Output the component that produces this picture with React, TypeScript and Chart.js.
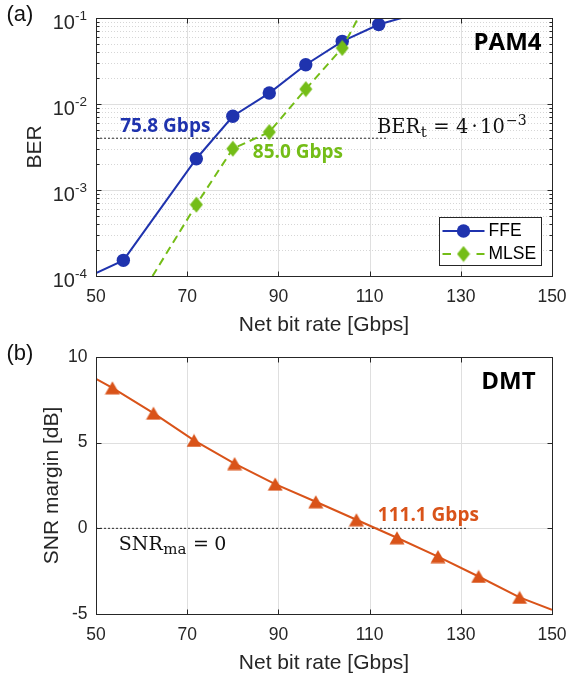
import React, { useEffect, useRef } from "react";
import { Chart, registerables } from "chart.js";
Chart.register(...registerables);

// ---------------- data ----------------
const xTicks = [50, 70, 90, 110, 130, 150];
const berTickValues = [1e-4, 1e-3, 1e-2, 1e-1];
const berTickExponents = ["-4", "-3", "-2", "-1"];
const snrTicks = [-5, 0, 5, 10];
const snrTickLabels = ["-5", "0", "5", "10"];

// PAM4 - FFE
const ffeRate = [56, 72, 80, 88, 96, 104, 112];
const ffeBer = [1.52e-4, 2.31e-3, 7.2e-3, 1.34e-2, 2.86e-2, 5.35e-2, 8.4e-2];
const ffeLineRate = [50, 56, 72, 80, 88, 96, 104, 112, 117];
const ffeLineBer = [1.08e-4, 1.52e-4, 2.31e-3, 7.2e-3, 1.34e-2, 2.86e-2, 5.35e-2, 8.4e-2, 1e-1];

// PAM4 - MLSE
const mlseRate = [72, 80, 88, 96, 104];
const mlseBer = [6.75e-4, 3.02e-3, 4.72e-3, 1.49e-2, 4.48e-2];
const mlseLineRate = [62.4, 72, 80, 88, 96, 104, 107.5];
const mlseLineBer = [1e-4, 6.75e-4, 3.02e-3, 4.72e-3, 1.49e-2, 4.48e-2, 1e-1];

// BER threshold
const berTarget = 4e-3;
const berTargetRate = [50, 114];

// DMT
const dmtRate = [53.6, 62.6, 71.5, 80.4, 89.3, 98.2, 107.1, 116.0, 125.0, 133.9, 142.9];
const dmtMargin = [8.2, 6.72, 5.13, 3.78, 2.58, 1.55, 0.5, -0.55, -1.65, -2.81, -4.03];
const dmtLineRate = [50, 53.6, 62.6, 71.5, 80.4, 89.3, 98.2, 107.1, 116.0, 125.0, 133.9, 142.9, 150];
const dmtLineMargin = [8.72, 8.2, 6.72, 5.13, 3.78, 2.58, 1.55, 0.5, -0.55, -1.65, -2.81, -4.03, -4.75];

// SNR threshold
const snrTarget = 0;
const snrTargetRate = [50, 131.6];

// annotation texts and anchors (data coordinates)
const ffeRateText = "75.8 Gbps";
const ffeRateAnchor = [55.3, 5.5e-3];
const mlseRateText = "85.0 Gbps";
const mlseRateAnchor = [84.4, 2.7e-3];
const pamText = "PAM4";
const pamAnchor = [147.7, 5.1e-2];
const berTargetAnchor = [111.6, 4.6e-3];
const dmtRateText = "111.1 Gbps";
const dmtRateAnchor = [111.8, 0.72];
const snrTargetAnchor = [55.0, -1.26];
const dmtText = "DMT";
const dmtAnchor = [146.4, 8.52];

// ---------------- styles ----------------
const BLUE = "#1f33ae";
const GREEN = "#74bd17";
const ORANGE = "#d95319";
const AX = "#262626";
const GRID = "#dfdfdf";
const MINOR = "#d6d6d6";
const SANS = "'Liberation Sans', Arial, sans-serif";
const BOLD = "'Open Sans', 'Noto Sans', sans-serif";
const SERIF = "'DejaVu Serif', serif";

const pts = (xs: number[], ys: number[]) => xs.map((x, i) => ({ x, y: ys[i] }));
const px = (v: number) => Math.round(v) + 0.5;

function makeDiamond(color: string) {
  const c = document.createElement("canvas");
  c.width = 14;
  c.height = 17;
  const g = c.getContext("2d")!;
  g.fillStyle = color;
  g.beginPath();
  g.moveTo(7, 0.5);
  g.lineTo(13.5, 8.5);
  g.lineTo(7, 16.5);
  g.lineTo(0.5, 8.5);
  g.closePath();
  g.fill();
  return c;
}

function makeTriangle(color: string) {
  const c = document.createElement("canvas");
  c.width = 16;
  c.height = 14;
  const g = c.getContext("2d")!;
  g.fillStyle = color;
  g.beginPath();
  g.moveTo(8, 0.5);
  g.lineTo(15.5, 13.5);
  g.lineTo(0.5, 13.5);
  g.closePath();
  g.fill();
  return c;
}

function mathText(
  ctx: CanvasRenderingContext2D,
  x: number,
  yb: number,
  segs: { t: string; size: number; dy?: number; gap?: number }[]
) {
  let cx = x;
  ctx.textAlign = "left";
  ctx.textBaseline = "alphabetic";
  for (const s of segs) {
    cx += s.gap || 0;
    ctx.font = `${s.size}px ${SERIF}`;
    ctx.fillText(s.t, cx, yb + (s.dy || 0));
    cx += ctx.measureText(s.t).width;
  }
}

function drawFrame(
  ctx: CanvasRenderingContext2D,
  a: any,
  xPix: number[],
  yMajor: number[],
  yMinor: number[]
) {
  ctx.save();
  ctx.strokeStyle = AX;
  ctx.lineWidth = 1;
  ctx.setLineDash([]);
  const l = px(a.left), r = px(a.right), t = px(a.top), b = px(a.bottom);
  ctx.strokeRect(l, t, r - l, b - t);
  ctx.beginPath();
  for (const x0 of xPix) {
    const x = px(x0);
    ctx.moveTo(x, b);
    ctx.lineTo(x, b - 5);
    ctx.moveTo(x, t);
    ctx.lineTo(x, t + 5);
  }
  for (const y0 of yMajor) {
    const y = px(y0);
    ctx.moveTo(l, y);
    ctx.lineTo(l + 5, y);
    ctx.moveTo(r, y);
    ctx.lineTo(r - 5, y);
  }
  for (const y0 of yMinor) {
    const y = px(y0);
    ctx.moveTo(l, y);
    ctx.lineTo(l + 3, y);
    ctx.moveTo(r, y);
    ctx.lineTo(r - 3, y);
  }
  ctx.stroke();
  ctx.restore();
}

function drawXAxisText(ctx: CanvasRenderingContext2D, chart: any) {
  const a = chart.chartArea;
  const xs = chart.scales.x;
  ctx.fillStyle = AX;
  ctx.font = `17.5px ${SANS}`;
  ctx.textAlign = "center";
  ctx.textBaseline = "middle";
  for (const t of xTicks) ctx.fillText(String(t), xs.getPixelForValue(t), a.bottom + 21.5);
  ctx.font = `21px ${SANS}`;
  ctx.fillText("Net bit rate [Gbps]", (a.left + a.right) / 2, a.bottom + 49);
}

function drawYTitle(ctx: CanvasRenderingContext2D, text: string, x: number, y: number) {
  ctx.save();
  ctx.translate(x, y);
  ctx.rotate(-Math.PI / 2);
  ctx.fillStyle = AX;
  ctx.font = `21px ${SANS}`;
  ctx.textAlign = "center";
  ctx.textBaseline = "middle";
  ctx.fillText(text, 0, 0);
  ctx.restore();
}

function minorBerValues() {
  const out: number[] = [];
  for (let i = 0; i < berTickValues.length - 1; i++)
    for (let k = 2; k <= 9; k++) out.push(k * berTickValues[i]);
  return out;
}

export default function App() {
  const refA = useRef<HTMLCanvasElement>(null);
  const refB = useRef<HTMLCanvasElement>(null);

  useEffect(() => {
    const diamond = makeDiamond(GREEN);
    const triangle = makeTriangle(ORANGE);

    const panelA = {
      id: "panelA",
      beforeDatasetsDraw(chart: any) {
        const ctx = chart.ctx as CanvasRenderingContext2D;
        const a = chart.chartArea;
        const xs = chart.scales.x, ys = chart.scales.y;
        ctx.save();
        ctx.lineWidth = 1;
        ctx.strokeStyle = MINOR;
        ctx.setLineDash([1, 2]);
        ctx.beginPath();
        for (const v of minorBerValues()) {
          const y = px(ys.getPixelForValue(v));
          ctx.moveTo(a.left, y);
          ctx.lineTo(a.right, y);
        }
        ctx.stroke();
        ctx.setLineDash([]);
        ctx.strokeStyle = GRID;
        ctx.beginPath();
        for (const v of berTickValues) {
          const y = px(ys.getPixelForValue(v));
          ctx.moveTo(a.left, y);
          ctx.lineTo(a.right, y);
        }
        for (const t of xTicks) {
          const x = px(xs.getPixelForValue(t));
          ctx.moveTo(x, a.top);
          ctx.lineTo(x, a.bottom);
        }
        ctx.stroke();
        ctx.restore();
      },
      afterDatasetsDraw(chart: any) {
        const ctx = chart.ctx as CanvasRenderingContext2D;
        const a = chart.chartArea;
        const xs = chart.scales.x, ys = chart.scales.y;
        drawFrame(
          ctx,
          a,
          xTicks.map((t) => xs.getPixelForValue(t)),
          berTickValues.map((v) => ys.getPixelForValue(v)),
          minorBerValues().map((v) => ys.getPixelForValue(v))
        );
        ctx.save();
        // y tick labels 10^n
        berTickValues.forEach((v, i) => {
          const y = ys.getPixelForValue(v);
          ctx.fillStyle = AX;
          ctx.textAlign = "right";
          ctx.textBaseline = "middle";
          ctx.font = `13.5px ${SANS}`;
          const supW = ctx.measureText(berTickExponents[i]).width;
          ctx.fillText(berTickExponents[i], a.left - 9, y - 1.5);
          ctx.font = `20px ${SANS}`;
          ctx.fillText("10", a.left - 9 - supW, y + 5.5);
        });
        drawXAxisText(ctx, chart);
        drawYTitle(ctx, "BER", 35, (a.top + a.bottom) / 2);
        // panel letter
        ctx.fillStyle = "#111";
        ctx.font = `22px ${SANS}`;
        ctx.textAlign = "left";
        ctx.textBaseline = "middle";
        ctx.fillText("(a)", 6.5, 15);
        // annotations
        ctx.font = `bold 19px ${BOLD}`;
        ctx.fillStyle = BLUE;
        ctx.fillText(ffeRateText, xs.getPixelForValue(ffeRateAnchor[0]), ys.getPixelForValue(ffeRateAnchor[1]));
        ctx.fillStyle = GREEN;
        ctx.fillText(mlseRateText, xs.getPixelForValue(mlseRateAnchor[0]), ys.getPixelForValue(mlseRateAnchor[1]));
        ctx.fillStyle = "#000";
        ctx.font = `bold 24px ${BOLD}`;
        ctx.textAlign = "right";
        ctx.fillText(pamText, xs.getPixelForValue(pamAnchor[0]), ys.getPixelForValue(pamAnchor[1]));
        ctx.fillStyle = "#111";
        mathText(ctx, xs.getPixelForValue(berTargetAnchor[0]), ys.getPixelForValue(berTargetAnchor[1]), [
          { t: "BER", size: 19.5 },
          { t: "t", size: 15, dy: 3.5, gap: 0.5 },
          { t: "=", size: 19.5, gap: 6.5 },
          { t: "4", size: 19.5, gap: 6.5 },
          { t: "·", size: 19.5, gap: 3 },
          { t: "10", size: 19.5, gap: 2.5 },
          { t: "−3", size: 14, dy: -8.5, gap: 1 },
        ]);
        // legend (south-east)
        const lw = 102, lh = 48;
        const lx = a.right - 11.5 - lw, ly = a.bottom - 11.5 - lh;
        ctx.fillStyle = "#fff";
        ctx.fillRect(px(lx), px(ly), lw, lh);
        ctx.strokeStyle = AX;
        ctx.lineWidth = 1;
        ctx.strokeRect(px(lx), px(ly), lw, lh);
        const r1 = ly + 14.5, r2 = ly + 37.5;
        ctx.strokeStyle = BLUE;
        ctx.lineWidth = 2;
        ctx.beginPath();
        ctx.moveTo(lx + 4, r1);
        ctx.lineTo(lx + 46, r1);
        ctx.stroke();
        ctx.fillStyle = BLUE;
        ctx.beginPath();
        ctx.arc(lx + 25, r1, 6.7, 0, Math.PI * 2);
        ctx.fill();
        ctx.strokeStyle = GREEN;
        ctx.beginPath();
        ctx.moveTo(lx + 4, r2);
        ctx.lineTo(lx + 12.5, r2);
        ctx.moveTo(lx + 38, r2);
        ctx.lineTo(lx + 46, r2);
        ctx.stroke();
        ctx.drawImage(diamond, lx + 25 - diamond.width / 2, r2 - diamond.height / 2);
        ctx.fillStyle = "#000";
        ctx.font = `17.5px ${SANS}`;
        ctx.textAlign = "left";
        ctx.textBaseline = "middle";
        ctx.fillText("FFE", lx + 50, r1);
        ctx.fillText("MLSE", lx + 50, r2);
        ctx.restore();
      },
    };

    const panelB = {
      id: "panelB",
      beforeDatasetsDraw(chart: any) {
        const ctx = chart.ctx as CanvasRenderingContext2D;
        const a = chart.chartArea;
        const xs = chart.scales.x, ys = chart.scales.y;
        ctx.save();
        ctx.lineWidth = 1;
        ctx.strokeStyle = GRID;
        ctx.beginPath();
        for (const v of snrTicks) {
          const y = px(ys.getPixelForValue(v));
          ctx.moveTo(a.left, y);
          ctx.lineTo(a.right, y);
        }
        for (const t of xTicks) {
          const x = px(xs.getPixelForValue(t));
          ctx.moveTo(x, a.top);
          ctx.lineTo(x, a.bottom);
        }
        ctx.stroke();
        ctx.restore();
      },
      afterDatasetsDraw(chart: any) {
        const ctx = chart.ctx as CanvasRenderingContext2D;
        const a = chart.chartArea;
        const xs = chart.scales.x, ys = chart.scales.y;
        drawFrame(
          ctx,
          a,
          xTicks.map((t) => xs.getPixelForValue(t)),
          snrTicks.map((v) => ys.getPixelForValue(v)),
          []
        );
        ctx.save();
        ctx.fillStyle = AX;
        ctx.font = `17.5px ${SANS}`;
        ctx.textAlign = "right";
        ctx.textBaseline = "middle";
        snrTicks.forEach((v, i) => ctx.fillText(snrTickLabels[i], a.left - 8.5, ys.getPixelForValue(v)));
        drawXAxisText(ctx, chart);
        drawYTitle(ctx, "SNR margin [dB]", 52, (a.top + a.bottom) / 2);
        ctx.fillStyle = "#111";
        ctx.font = `22px ${SANS}`;
        ctx.textAlign = "left";
        ctx.textBaseline = "middle";
        ctx.fillText("(b)", 6.5, 24);
        ctx.font = `bold 19px ${BOLD}`;
        ctx.fillStyle = ORANGE;
        ctx.fillText(dmtRateText, xs.getPixelForValue(dmtRateAnchor[0]), ys.getPixelForValue(dmtRateAnchor[1]));
        ctx.fillStyle = "#000";
        ctx.font = `bold 24px ${BOLD}`;
        ctx.textAlign = "right";
        ctx.fillText(dmtText, xs.getPixelForValue(dmtAnchor[0]), ys.getPixelForValue(dmtAnchor[1]));
        ctx.fillStyle = "#111";
        mathText(ctx, xs.getPixelForValue(snrTargetAnchor[0]), ys.getPixelForValue(snrTargetAnchor[1]), [
          { t: "SNR", size: 19 },
          { t: "ma", size: 15, dy: 4, gap: 0.5 },
          { t: "=", size: 19, gap: 6.5 },
          { t: "0", size: 19, gap: 5.5 },
        ]);
        ctx.restore();
      },
    };

    const common = (padTop: number, xHeight: number, yMin: number, yMax: number, yType: string) => ({
      responsive: false,
      maintainAspectRatio: false,
      animation: false as const,
      devicePixelRatio: 1,
      layout: { padding: { left: 0, right: 18, top: padTop, bottom: 0 } },
      plugins: { legend: { display: false }, tooltip: { enabled: false } },
      scales: {
        x: {
          type: "linear",
          min: 50,
          max: 150,
          ticks: { display: false },
          grid: { display: false },
          border: { display: false },
          afterFit: (s: any) => {
            s.height = xHeight;
          },
        },
        y: {
          type: yType,
          min: yMin,
          max: yMax,
          ticks: { display: false },
          grid: { display: false },
          border: { display: false },
          afterFit: (s: any) => {
            s.width = 96;
          },
        },
      },
    });

    const chartA = new Chart(refA.current!, {
      type: "line",
      data: {
        datasets: [
          {
            label: "MLSE",
            data: pts(mlseRate, mlseBer),
            showLine: false,
            pointStyle: diamond as any,
            pointRadius: 7,
            pointBorderWidth: 0,
            pointBackgroundColor: GREEN,
            order: 0,
          },
          {
            label: "MLSE line",
            data: pts(mlseLineRate, mlseLineBer),
            borderColor: GREEN,
            borderWidth: 2,
            borderDash: [8, 5],
            pointRadius: 0,
            order: 1,
          },
          {
            label: "FFE",
            data: pts(ffeRate, ffeBer),
            showLine: false,
            pointStyle: "circle",
            pointRadius: 6.7,
            pointBorderWidth: 0,
            pointBackgroundColor: BLUE,
            order: 2,
          },
          {
            label: "FFE line",
            data: pts(ffeLineRate, ffeLineBer),
            borderColor: BLUE,
            borderWidth: 2,
            pointRadius: 0,
            order: 3,
          },
          {
            label: "BER target",
            data: pts(berTargetRate, [berTarget, berTarget]),
            borderColor: "#2a2a2a",
            borderWidth: 1,
            borderDash: [2, 2],
            pointRadius: 0,
            order: 4,
          },
        ],
      },
      options: common(18, 340 - 276, 1e-4, 1e-1, "logarithmic") as any,
      plugins: [panelA],
    });

    const chartB = new Chart(refB.current!, {
      type: "line",
      data: {
        datasets: [
          {
            label: "DMT",
            data: pts(dmtRate, dmtMargin),
            showLine: false,
            pointStyle: triangle as any,
            pointRadius: 7,
            pointBorderWidth: 0,
            pointBackgroundColor: ORANGE,
            order: 0,
          },
          {
            label: "DMT line",
            data: pts(dmtLineRate, dmtLineMargin),
            borderColor: ORANGE,
            borderWidth: 2,
            pointRadius: 0,
            order: 1,
          },
          {
            label: "SNR target",
            data: pts(snrTargetRate, [snrTarget, snrTarget]),
            borderColor: "#2a2a2a",
            borderWidth: 1,
            borderDash: [2, 2],
            pointRadius: 0,
            order: 2,
          },
        ],
      },
      options: common(27, 349 - 284, -5, 10, "linear") as any,
      plugins: [panelB],
    });

    return () => {
      chartA.destroy();
      chartB.destroy();
    };
  }, []);

  return (
    <div
      style={{
        position: "absolute",
        left: 0,
        top: 0,
        width: 570,
        height: 679,
        background: "#fff",
        overflow: "hidden",
      }}
    >
      <canvas
        ref={refA}
        width={570}
        height={340}
        style={{ position: "absolute", left: 0, top: 0, width: 570, height: 340 }}
      />
      <canvas
        ref={refB}
        width={570}
        height={349}
        style={{ position: "absolute", left: 0, top: 330, width: 570, height: 349 }}
      />
    </div>
  );
}
